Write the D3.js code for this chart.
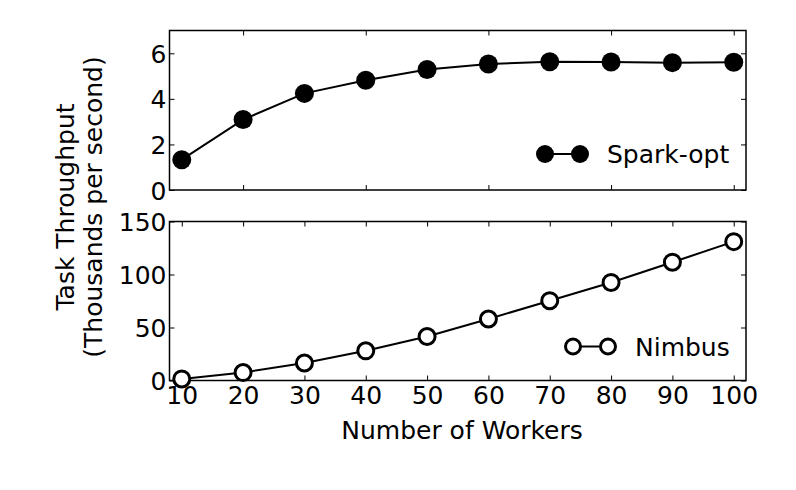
<!DOCTYPE html>
<html>
<head>
<meta charset="utf-8">
<script src="https://cdn.jsdelivr.net/npm/d3@7"></script>
<style>
  html, body { margin: 0; padding: 0; background: #fff; }
  svg { display: block; font-family: "DejaVu Sans", sans-serif; }
</style>
</head>
<body>
<script>
const workers = [10, 20, 30, 40, 50, 60, 70, 80, 90, 100];
const sparkOpt = [1.33, 3.09, 4.24, 4.82, 5.29, 5.53, 5.63, 5.62, 5.59, 5.61];
const nimbus = [1.5, 7.5, 16.5, 28, 41.5, 58, 75.3, 92.5, 111.6, 131];
const topYTicks = [0, 2, 4, 6];
const botYTicks = [0, 50, 100, 150];
const topXTicks = [20, 40, 60, 80, 100];
const botXTicks = [10, 20, 30, 40, 50, 60, 70, 80, 90, 100];
const seriesNames = ["Spark-opt", "Nimbus"];

const W = 796, H = 490;
const FS = 25;
const left = 169.5, right = 746;
const topPanel = { y0: 30.5, y1: 190 };
const botPanel = { y0: 221.5, y1: 380.5 };

const svg = d3.select("body").append("svg").attr("width", W).attr("height", H);

const x = d3.scaleLinear().domain([8, 102]).range([left, right]);
const yTop = d3.scaleLinear().domain([0, 7]).range([topPanel.y1, topPanel.y0]);
const yBot = d3.scaleLinear().domain([0, 150]).range([botPanel.y1, botPanel.y0]);
const fmt = d3.format("d");

const tickLen = 5;
function panel(y, p, yTicks, xTicks, showXLabels) {
  const g = svg.append("g");
  const ax = (axis, tx, ty) => {
    const a = g.append("g").attr("transform", `translate(${tx},${ty})`).call(axis);
    a.select(".domain").remove();
    a.selectAll("line").attr("stroke", "#000").attr("stroke-width", 1);
    return a;
  };
  const bottom = ax(d3.axisBottom(x).tickValues(xTicks).tickFormat(fmt).tickSizeInner(-tickLen).tickSizeOuter(0), 0, p.y1);
  bottom.selectAll("text").attr("font-size", FS).attr("fill", "#000").attr("font-family", "DejaVu Sans")
    .attr("y", 5).attr("dy", "0.73em");
  if (!showXLabels) bottom.selectAll("text").remove();
  const top = ax(d3.axisTop(x).tickValues(xTicks).tickSizeInner(-tickLen).tickSizeOuter(0), 0, p.y0);
  top.selectAll("text").remove();
  const l = ax(d3.axisLeft(y).tickValues(yTicks).tickFormat(fmt).tickSizeInner(-tickLen).tickSizeOuter(0), left, 0);
  l.selectAll("text").attr("font-size", FS).attr("fill", "#000").attr("font-family", "DejaVu Sans").attr("x", -3).attr("dy", "0.36em");
  const r = ax(d3.axisRight(y).tickValues(yTicks).tickSizeInner(-tickLen).tickSizeOuter(0), right, 0);
  r.selectAll("text").remove();
  g.append("rect").attr("x", left).attr("y", p.y0).attr("width", right - left).attr("height", p.y1 - p.y0)
    .attr("fill", "none").attr("stroke", "#000").attr("stroke-width", 1.5);
  return g;
}

panel(yTop, topPanel, topYTicks, topXTicks, false);
panel(yBot, botPanel, botYTicks, botXTicks, true);

const line = (yS, vals) => d3.line().x((d, i) => x(workers[i])).y(d => yS(d))(vals);

// Spark-opt
svg.append("path").attr("d", line(yTop, sparkOpt)).attr("fill", "none").attr("stroke", "#000").attr("stroke-width", 2);
svg.append("g").selectAll("circle").data(sparkOpt).join("circle")
  .attr("cx", (d, i) => x(workers[i])).attr("cy", d => yTop(d)).attr("r", 9.5).attr("fill", "#000");

// Nimbus
svg.append("path").attr("d", line(yBot, nimbus)).attr("fill", "none").attr("stroke", "#000").attr("stroke-width", 2);
svg.append("g").selectAll("circle").data(nimbus).join("circle")
  .attr("cx", (d, i) => x(workers[i])).attr("cy", d => yBot(d)).attr("r", 8).attr("fill", "#fff")
  .attr("stroke", "#000").attr("stroke-width", 3);

// Legends
function legend(lx, ly, name, filled) {
  const g = svg.append("g");
  g.append("line").attr("x1", lx).attr("x2", lx + 35).attr("y1", ly).attr("y2", ly).attr("stroke", "#000").attr("stroke-width", 2);
  [lx, lx + 35].forEach(cx => {
    const c = g.append("circle").attr("cx", cx).attr("cy", ly);
    if (filled) c.attr("r", 9).attr("fill", "#000");
    else c.attr("r", 7.5).attr("fill", "#fff").attr("stroke", "#000").attr("stroke-width", 3);
  });
  g.append("text").attr("x", lx + 62).attr("y", ly + 9).attr("font-size", FS).attr("fill", "#000").text(name);
}
legend(545, 154, seriesNames[0], true);
legend(573, 346.5, seriesNames[1], false);

// Axis labels
svg.append("text").attr("x", 462).attr("y", 439).attr("text-anchor", "middle")
  .attr("font-size", FS).attr("fill", "#000").text("Number of Workers");
const yl = svg.append("text").attr("transform", "translate(74,207) rotate(-90)").attr("text-anchor", "middle")
  .attr("font-size", FS).attr("fill", "#000");
yl.append("tspan").attr("x", 0).attr("y", 0).text("Task Throughput");
yl.append("tspan").attr("x", 0).attr("y", 28).text("(Thousands per second)");
</script>
</body>
</html>
